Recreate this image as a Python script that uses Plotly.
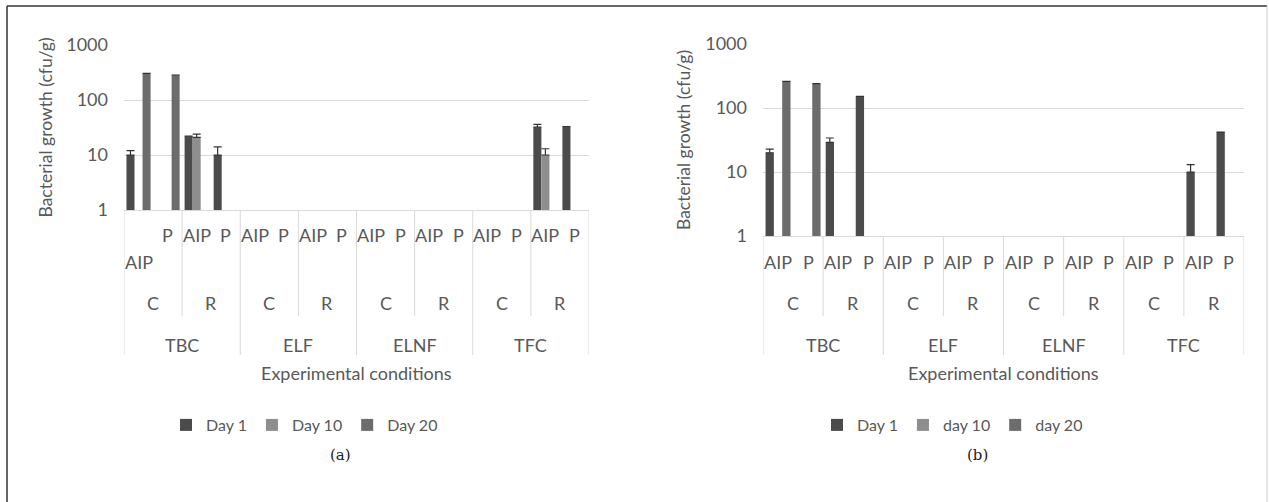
import plotly.graph_objects as go

W, H = 1269, 502

groups = ["TBC", "ELF", "ELNF", "TFC"]
subgroups = ["C", "R"]
leaves = ["AIP", "P"]
categories = [f"{g}|{s}|{l}" for g in groups for s in subgroups for l in leaves]

# Panel (a)
day1_a = [10, None, 22, 10, None, None, None, None, None, None, None, None, None, None, 32, 33]
day10_a = [None, None, 21, None, None, None, None, None, None, None, None, None, None, None, 10, None]
day20_a = [305, 285, None, None, None, None, None, None, None, None, None, None, None, None, None, None]
err1_a = [2, 0, 0, 4, 0, 0, 0, 0, 0, 0, 0, 0, 0, 0, 4, 0]
err10_a = [0, 0, 3, 0, 0, 0, 0, 0, 0, 0, 0, 0, 0, 0, 3, 0]
err20_a = [0] * 16

# Panel (b)
day1_b = [20, None, 29, 152, None, None, None, None, None, None, None, None, None, None, 10, 42]
day10_b = [None] * 16
day20_b = [261, 240, None, None, None, None, None, None, None, None, None, None, None, None, None, None]
err1_b = [2.7, 0, 5, 0, 0, 0, 0, 0, 0, 0, 0, 0, 0, 0, 3, 0]
err10_b = [0] * 16
err20_b = [0] * 16

names_a = ["Day 1", "Day 10", "Day 20"]
names_b = ["Day 1", "day 10", "day 20"]
colors = ["#4b4b4b", "#8e8e8e", "#6c6c6c"]
ytick_vals = [1, 10, 100, 1000]
ytick_text = ["1", "10", "100", "1000"]

FONT = "Lato, 'Open Sans', sans-serif"
TXT = "#595959"
GRID = "#d9d9d9"
FS = 18


def py(p):
    return 1 - p / H


def pxx(p):
    return p / W


fig = go.Figure()

panels = [
    dict(x="x", y="y", legend="legend", names=names_a,
         data=[day1_a, day10_a, day20_a], errs=[err1_a, err10_a, err20_a]),
    dict(x="x2", y="y2", legend="legend2", names=names_b,
         data=[day1_b, day10_b, day20_b], errs=[err1_b, err10_b, err20_b]),
]

for p in panels:
    for i in range(3):
        fig.add_trace(go.Bar(
            x=categories, y=p["data"][i], name=p["names"][i],
            marker=dict(color=colors[i], line=dict(width=0)),
            error_y=dict(type="data", array=p["errs"][i], arrayminus=[0] * 16,
                         symmetric=False, color="#333333", thickness=1.2, width=4),
            xaxis=p["x"], yaxis=p["y"], legend=p["legend"],
        ))

# geometry (pixels)
left = dict(x0=124, x1=589, ytop=45, ybot=210, leafy=235, ytitle_x=45)
right = dict(x0=763, x1=1244, ytop=44, ybot=236, leafy=262, ytitle_x=683)

axis_common = dict(
    type="log", range=[0, 3], tickvals=ytick_vals, ticktext=ytick_text,
    showgrid=True, gridcolor=GRID, gridwidth=1, zeroline=False, showline=False,
    tickfont=dict(family=FONT, size=FS, color=TXT), ticks="", ticklabelstandoff=15,
    automargin=False,
)
xaxis_common = dict(
    showticklabels=False, showgrid=False, zeroline=False, showline=True,
    linecolor=GRID, linewidth=1, ticks="", range=[-0.5, 15.5], automargin=False,
)

fig.update_layout(
    template="none",
    width=W, height=H, margin=dict(l=0, r=0, t=0, b=0, autoexpand=False),
    paper_bgcolor="white", plot_bgcolor="white",
    barmode="group", bargap=0.17, bargroupgap=0,
    xaxis=dict(domain=[pxx(left["x0"]), pxx(left["x1"])], anchor="y", **xaxis_common),
    yaxis=dict(domain=[py(left["ybot"]), py(left["ytop"])], anchor="x", **axis_common),
    xaxis2=dict(domain=[pxx(right["x0"]), pxx(right["x1"])], anchor="y2", **xaxis_common),
    yaxis2=dict(domain=[py(right["ybot"]), py(right["ytop"])], anchor="x2", **axis_common),
    legend=dict(orientation="h", x=pxx(166), y=py(425), xanchor="left", yanchor="middle",
                font=dict(family=FONT, size=16, color=TXT), bgcolor="rgba(0,0,0,0)",
                itemwidth=30),
    legend2=dict(orientation="h", x=pxx(817), y=py(425), xanchor="left", yanchor="middle",
                 font=dict(family=FONT, size=16, color=TXT), bgcolor="rgba(0,0,0,0)",
                 itemwidth=30),
    showlegend=True,
)


def ann(**kw):
    kw.setdefault("showarrow", False)
    kw.setdefault("xanchor", "center")
    kw.setdefault("yanchor", "middle")
    kw.setdefault("font", dict(family=FONT, size=FS, color=TXT))
    return kw


shapes = []
annotations = []
for geo, xr in [(left, "x"), (right, "x2")]:
    for gi in range(len(groups) + 1):
        xv = gi * 4 - 0.5
        shapes.append(dict(type="line", xref=xr, yref="paper", x0=xv, x1=xv,
                           y0=py(geo["ybot"]), y1=py(355), line=dict(color=GRID, width=1)))
    for gi in range(len(groups)):
        xv = gi * 4 + 1.5
        shapes.append(dict(type="line", xref=xr, yref="paper", x0=xv, x1=xv,
                           y0=py(geo["ybot"]), y1=py(316), line=dict(color=GRID, width=1)))
    for gi, g in enumerate(groups):
        annotations.append(ann(xref=xr, yref="paper", x=gi * 4 + 1.5, y=py(345), text=g))
        for si, s in enumerate(subgroups):
            annotations.append(ann(xref=xr, yref="paper", x=gi * 4 + si * 2 + 0.5,
                                   y=py(303), text=s))
            for li, l in enumerate(leaves):
                idx = gi * 4 + si * 2 + li
                yy = geo["leafy"]
                if xr == "x" and idx == 0:
                    yy = 262
                annotations.append(ann(xref=xr, yref="paper", x=idx, y=py(yy), text=l))
    annotations.append(ann(xref="paper", yref="paper", x=pxx((geo["x0"] + geo["x1"]) / 2),
                           y=py(373), text="Experimental conditions"))
    annotations.append(ann(xref="paper", yref="paper", x=pxx(geo["ytitle_x"]),
                           y=py((geo["ytop"] + geo["ybot"]) / 2),
                           text="Bacterial growth (cfu/g)", textangle=-90,
                           font=dict(family=FONT, size=17.5, color=TXT)))

annotations.append(ann(xref="paper", yref="paper", x=pxx(340), y=py(455), text="(a)",
                       font=dict(family="DejaVu Serif", size=15, color="#222")))
annotations.append(ann(xref="paper", yref="paper", x=pxx(977), y=py(455), text="(b)",
                       font=dict(family="DejaVu Serif", size=15, color="#222")))

# outer frame
shapes.append(dict(type="line", xref="paper", yref="paper", x0=pxx(7), x1=pxx(1267),
                   y0=py(6), y1=py(6), line=dict(color="#333333", width=1.5)))
shapes.append(dict(type="line", xref="paper", yref="paper", x0=pxx(7), x1=pxx(7),
                   y0=py(6), y1=py(502), line=dict(color="#333333", width=1.5)))
shapes.append(dict(type="line", xref="paper", yref="paper", x0=pxx(1267), x1=pxx(1267),
                   y0=py(6), y1=py(502), line=dict(color="#cccccc", width=1)))

fig.update_layout(shapes=shapes, annotations=annotations)

fig.write_html("out.html", config={"displayModeBar": False},
               post_script="document.body.style.margin='0';document.body.style.overflow='hidden';")
